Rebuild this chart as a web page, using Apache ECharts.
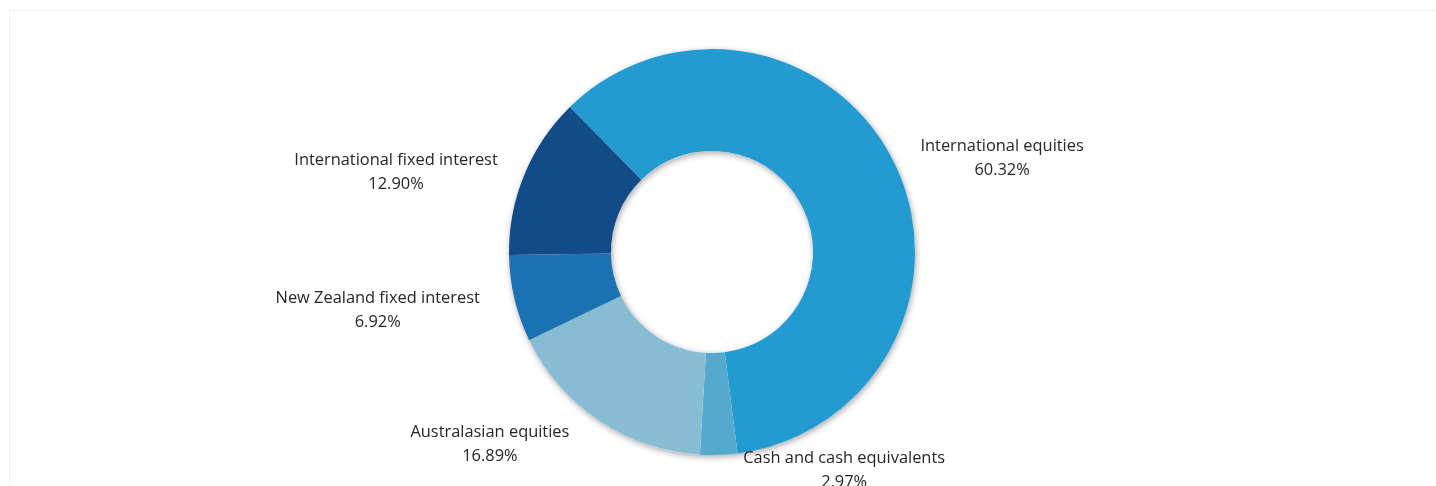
<!DOCTYPE html>
<html>
<head>
<meta charset="utf-8">
<script src="https://cdn.jsdelivr.net/npm/echarts@6/dist/echarts.min.js"></script>
<style>
  html, body { margin: 0; padding: 0; width: 1436px; height: 486px; overflow: hidden; background: #ffffff; }
  #frame { position: absolute; left: 9px; top: 10px; width: 1600px; height: 700px; border: 1px solid #efefef; }
  #chart { position: absolute; left: 0; top: 0; width: 1436px; height: 486px; }
</style>
</head>
<body>
<div id="frame"></div>
<div id="chart"></div>
<script>
const categories = [
  'International equities',
  'Cash and cash equivalents',
  'Australasian equities',
  'New Zealand fixed interest',
  'International fixed interest'
];
const values = [60.32, 2.97, 16.89, 6.92, 12.90];
const colors = ['#249BD0', '#55A9CC', '#86BDD3', '#1C72B0', '#134B88'];

// label placement style (library labelLine lengths, line hidden)
const labelLen = [13, 15, 28, 52, 6];
const labelLen2 = [9, 19, 9, -21, 16];

const chart = echarts.init(document.getElementById('chart'), null, { renderer: 'canvas' });

const center = [712, 252];
const radius = [101, 203];

chart.setOption({
  animation: false,
  backgroundColor: 'transparent',
  textStyle: { fontFamily: 'Open Sans' },
  series: [
    {
      type: 'pie',
      silent: true,
      center: center,
      radius: radius,
      startAngle: 134.4,
      label: { show: false },
      labelLine: { show: false },
      itemStyle: {
        color: '#ffffff',
        shadowBlur: 6,
        shadowColor: 'rgba(0,0,0,0.35)',
        shadowOffsetX: 1,
        shadowOffsetY: 2
      },
      data: [{ value: 1, name: '' }]
    },
    {
      type: 'pie',
      center: center,
      radius: radius,
      startAngle: 134.4,
      clockwise: true,
      avoidLabelOverlap: false,
      itemStyle: { borderWidth: 0 },
      label: {
        show: true,
        position: 'outside',
        color: '#262626',
        fontFamily: 'Open Sans',
        fontSize: 16.4,
        lineHeight: 24,
        distanceToLabelLine: 5,
        formatter: function (p) { return p.name + '\n' + p.value.toFixed(2) + '%'; }
      },
      labelLine: { show: false, length: 15, length2: 12 },
      labelLayout: function (params) {
        const r = params.labelRect;
        return { x: r.x + r.width / 2, align: 'center' };
      },
      emphasis: { disabled: true },
      data: categories.map(function (c, i) {
        return {
          name: c,
          value: values[i],
          itemStyle: { color: colors[i] },
          labelLine: { show: false, length: labelLen[i], length2: labelLen2[i] }
        };
      })
    }
  ]
});
</script>
</body>
</html>
